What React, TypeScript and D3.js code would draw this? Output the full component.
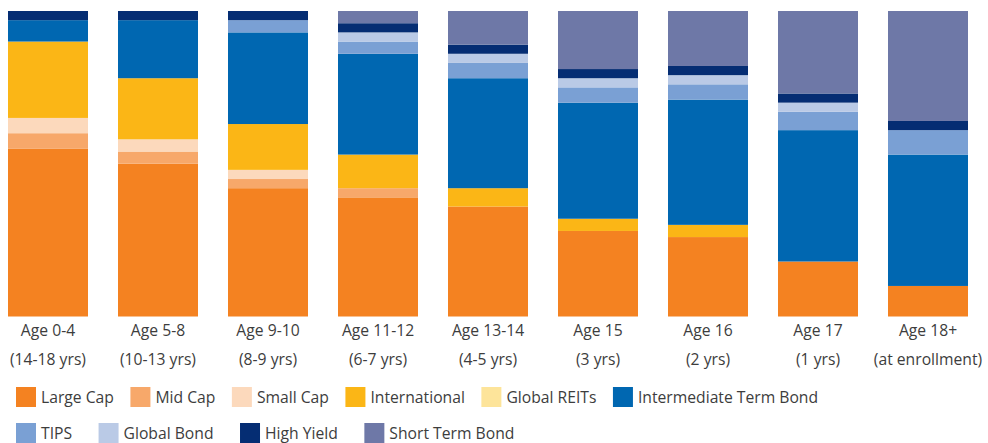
import React, { useEffect, useRef } from 'react';
import * as d3 from 'd3';

const ages = ['Age 0-4', 'Age 5-8', 'Age 9-10', 'Age 11-12', 'Age 13-14', 'Age 15', 'Age 16', 'Age 17', 'Age 18+'];
const untilCollege = ['(14-18 yrs)', '(10-13 yrs)', '(8-9 yrs)', '(6-7 yrs)', '(4-5 yrs)', '(3 yrs)', '(2 yrs)', '(1 yrs)', '(at enrollment)'];

// allocation (%) per age band, bottom of the stack first
const largeCap = [55, 50, 42, 39, 36, 28, 26, 18, 10];
const midCap = [5, 4, 3, 3, 0, 0, 0, 0, 0];
const smallCap = [5, 4, 3, 0, 0, 0, 0, 0, 0];
const international = [25, 20, 15, 11, 6, 4, 4, 0, 0];
const globalReits = [0, 0, 0, 0, 0, 0, 0, 0, 0];
const intermediateBond = [7, 19, 30, 33, 36, 38, 41, 43, 43];
const tips = [0, 0, 4, 4, 5, 5, 5, 6, 8];
const globalBond = [0, 0, 0, 3, 3, 3, 3, 3, 0];
const highYield = [3, 3, 3, 3, 3, 3, 3, 3, 3];
const shortTermBond = [0, 0, 0, 4, 11, 19, 18, 27, 36];

const seriesNames = ['Large Cap', 'Mid Cap', 'Small Cap', 'International', 'Global REITs', 'Intermediate Term Bond', 'TIPS', 'Global Bond', 'High Yield', 'Short Term Bond'];
const seriesValues = [largeCap, midCap, smallCap, international, globalReits, intermediateBond, tips, globalBond, highYield, shortTermBond];
const seriesColors = ['#f48221', '#f7a86a', '#fcd9bc', '#fbb616', '#fde49a', '#0067b1', '#7aa0d4', '#bacae6', '#052d73', '#6e78a7'];

const legendRows = [
  ['Large Cap', 'Mid Cap', 'Small Cap', 'International', 'Global REITs', 'Intermediate Term Bond'],
  ['TIPS', 'Global Bond', 'High Yield', 'Short Term Bond'],
];

const W = 988;
const H = 443;

const App: React.FC = () => {
  const ref = useRef<SVGSVGElement | null>(null);

  useEffect(() => {
    if (!ref.current) return;
    const svg = d3.select(ref.current);
    svg.selectAll('*').remove();

    const font = "'Open Sans', 'Noto Sans', sans-serif";
    const fontSize = 15.7;
    const textColor = '#3d3d3d';

    const rows = ages.map((age, i) => {
      const row: Record<string, any> = { age };
      seriesNames.forEach((s, k) => (row[s] = seriesValues[k][i]));
      return row;
    });
    const stacked = d3.stack<any>().keys(seriesNames)(rows);

    const x = d3
      .scaleBand<string>()
      .domain(ages)
      .range([-7, 983])
      .paddingInner(30 / 110)
      .paddingOuter(15 / 110);

    const y = d3.scaleLinear().domain([0, 100]).range([316.5, 11]);

    const color = d3.scaleOrdinal<string, string>().domain(seriesNames).range(seriesColors);

    svg
      .append('g')
      .selectAll('g')
      .data(stacked)
      .join('g')
      .attr('fill', d => color(d.key))
      .selectAll('rect')
      .data(d => d.filter(p => p[1] - p[0] > 0))
      .join('rect')
      .attr('x', d => x(d.data.age)!)
      .attr('width', x.bandwidth())
      .attr('y', d => y(d[1]))
      .attr('height', d => y(d[0]) - y(d[1]));

    // category labels (two lines)
    const labels = svg
      .append('g')
      .attr('font-family', font)
      .attr('font-size', fontSize)
      .attr('fill', textColor)
      .attr('text-anchor', 'middle');
    labels
      .selectAll('text.age')
      .data(ages)
      .join('text')
      .attr('class', 'age')
      .attr('x', d => x(d)! + x.bandwidth() / 2)
      .attr('y', 336)
      .text(d => d);
    labels
      .selectAll('text.yrs')
      .data(untilCollege)
      .join('text')
      .attr('class', 'yrs')
      .attr('x', (_, i) => x(ages[i])! + x.bandwidth() / 2)
      .attr('y', 365)
      .text(d => d);

    // legend: the second row is spread wider than the first
    const rowGaps = [16.5, 26.5];
    const legend = svg
      .append('g')
      .attr('font-family', font)
      .attr('font-size', fontSize)
      .attr('fill', textColor);
    legendRows.forEach((row, r) => {
      let cx = 16;
      const top = 387 + r * 36;
      row.forEach(name => {
        legend
          .append('rect')
          .attr('x', cx)
          .attr('y', top)
          .attr('width', 20)
          .attr('height', 20)
          .attr('fill', color(name));
        const t = legend
          .append('text')
          .attr('x', cx + 25)
          .attr('y', top + 16)
          .text(name);
        const w = (t.node() as SVGTextElement).getComputedTextLength();
        cx += 25 + w + rowGaps[r];
      });
    });
  }, []);

  return (
    <svg
      ref={ref}
      width={W}
      height={H}
      style={{ position: 'absolute', left: 0, top: 0, background: '#fff' }}
    />
  );
};

export default App;
